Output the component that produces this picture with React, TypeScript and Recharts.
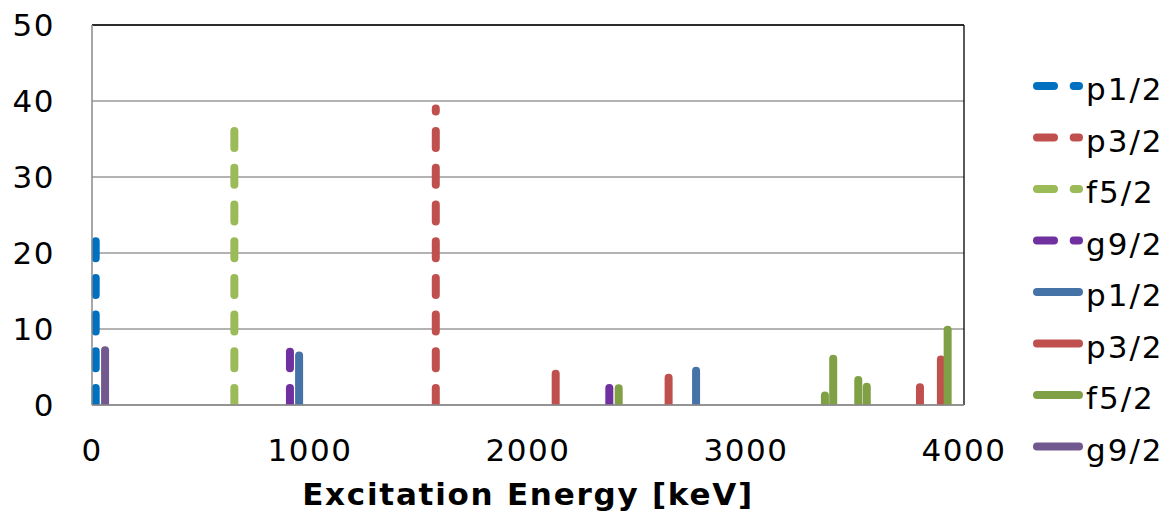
import React from 'react';
import {
  ComposedChart,
  Line,
  XAxis,
  YAxis,
  CartesianGrid,
  ReferenceLine,
} from 'recharts';

// peak positions (keV) and strengths
const seriesNames = ['p1/2', 'p3/2', 'f5/2', 'g9/2', 'p1/2', 'p3/2', 'f5/2', 'g9/2'];
const seriesColors = ['#0070C0', '#C0504D', '#9BBB59', '#7030A0', '#4572A7', '#C0504D', '#80A045', '#71588F'];
const seriesDashed = [true, true, true, true, false, false, false, false];

const dashP12Energy = [17];
const dashP12Value = [21.6];
const dashP32Energy = [1577];
const dashP32Value = [39.0];
const dashF52Energy = [653];
const dashF52Value = [36.1];
const dashG92Energy = [908, 2373];
const dashG92Value = [7.0, 2.4];

const solidP12Energy = [950, 2771];
const solidP12Value = [6.5, 4.5];
const solidP32Energy = [2127, 2645, 3798, 3894];
const solidP32Value = [4.1, 3.6, 2.35, 6.0];
const solidF52Energy = [2416, 3362, 3400, 3515, 3554, 3925];
const solidF52Value = [2.2, 1.25, 6.1, 3.3, 2.4, 9.9];
const solidG92Energy = [60];
const solidG92Value = [7.2];

const xTicks = [0, 1000, 2000, 3000, 4000];
const yTicks = [0, 10, 20, 30, 40, 50];

const energies = [dashP12Energy, dashP32Energy, dashF52Energy, dashG92Energy, solidP12Energy, solidP32Energy, solidF52Energy, solidG92Energy];
const values = [dashP12Value, dashP32Value, dashF52Value, dashG92Value, solidP12Value, solidP32Value, solidF52Value, solidG92Value];

// each peak becomes a vertical stick: (e,0) -> (e,v), then a null to break the path
const toSticks = (es: number[], vs: number[]) =>
  es.flatMap((e, i) => [
    { x: e, y: 0 },
    { x: e, y: vs[i] },
    { x: e, y: null },
  ]);

const DASH = '17 19.7';
const font = '"DejaVu Sans", Verdana, sans-serif';

export default function App() {
  return (
    <div style={{ position: 'absolute', left: 0, top: 0, width: 1174, height: 518, background: '#fff' }}>
      <ComposedChart width={1174} height={518} margin={{ top: 25, right: 210, left: 0, bottom: 0 }}>
        <CartesianGrid vertical={false} stroke="#9a9a9a" strokeWidth={1.3} />
        <XAxis
          type="number"
          dataKey="x"
          domain={[0, 4000]}
          ticks={xTicks}
          height={113}
          tickSize={0}
          tickMargin={34}
          stroke="#8a8a8a"
          strokeWidth={1.5}
          tick={{ fontSize: 31, fill: '#000', fontFamily: font, letterSpacing: 1.5 }}
          label={{
            value: 'Excitation Energy [keV]',
            position: 'insideBottom',
            offset: 13,
            fontSize: 31,
            fontWeight: 'bold',
            fill: '#000',
            fontFamily: font,
            letterSpacing: 1.75,
          }}
        />
        <YAxis
          type="number"
          domain={[0, 50]}
          ticks={yTicks}
          allowDataOverflow
          width={92}
          tickSize={0}
          tickMargin={37}
          stroke="#8a8a8a"
          strokeWidth={1.5}
          tick={{ fontSize: 31, fill: '#000', fontFamily: font, letterSpacing: 1.5 }}
        />
        <ReferenceLine y={50} stroke="#000" strokeWidth={1.3} />
        <ReferenceLine x={4000} stroke="#000" strokeWidth={1.3} />
        {seriesNames.map((name, i) => (
          <Line
            key={i}
            name={name}
            data={toSticks(energies[i], values[i])}
            dataKey="y"
            type="linear"
            stroke={seriesColors[i]}
            strokeWidth={8}
            strokeLinecap="round"
            strokeDasharray={seriesDashed[i] ? DASH : undefined}
            dot={false}
            activeDot={false}
            connectNulls={false}
            isAnimationActive={false}
            legendType="none"
          />
        ))}
      </ComposedChart>
      <svg width={174} height={518} style={{ position: 'absolute', left: 1000, top: 0 }}>
        {seriesNames.map((name, i) => {
          const y = 86 + i * 51.5;
          return (
            <g key={i}>
              <line
                x1={37}
                x2={79}
                y1={y}
                y2={y}
                stroke={seriesColors[i]}
                strokeWidth={8}
                strokeLinecap="round"
                strokeDasharray={seriesDashed[i] ? DASH : undefined}
              />
              <text x={86} y={y + 14} fontSize={31} fontFamily={font} fill="#000" letterSpacing={2}>
                {name}
              </text>
            </g>
          );
        })}
      </svg>
    </div>
  );
}
